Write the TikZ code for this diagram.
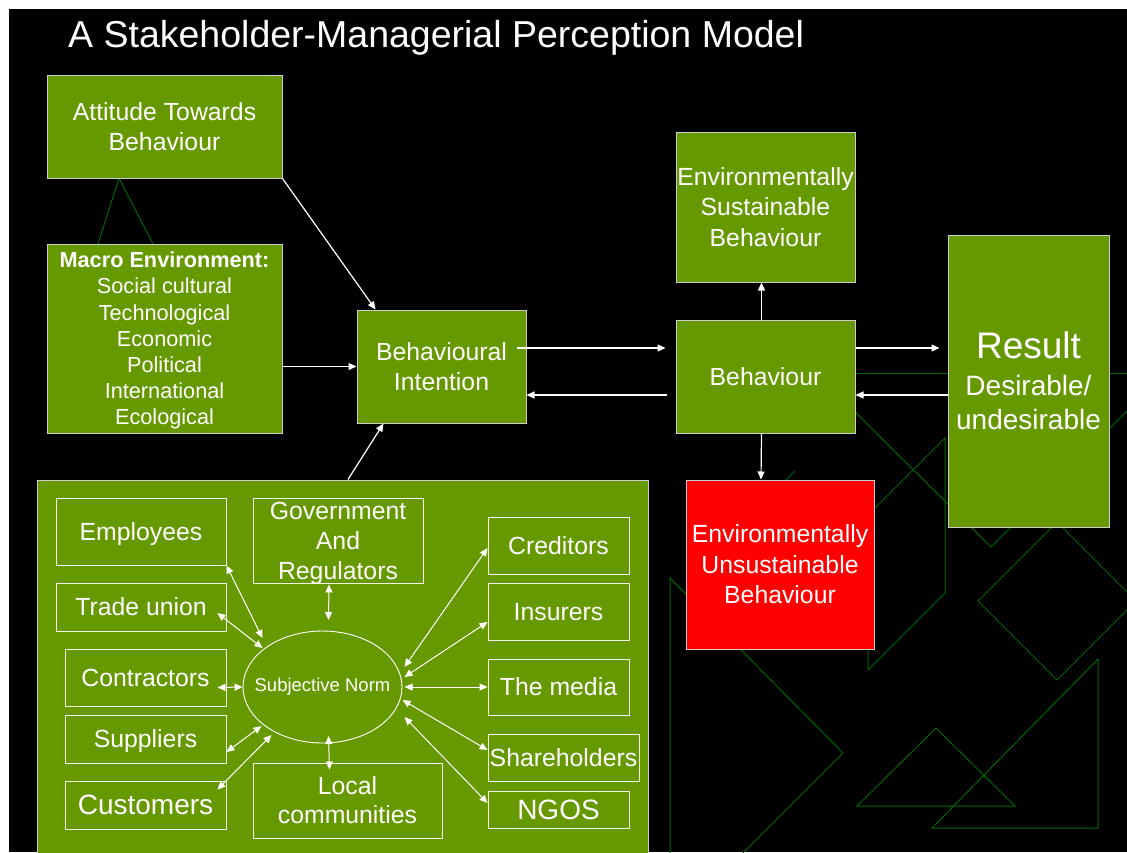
\documentclass[tikz,border=0pt]{standalone}
\usepackage{fontspec}
\setmainfont{Liberation Sans}
\usetikzlibrary{arrows.meta, shapes.geometric, calc}

\definecolor{slidegreen}{RGB}{102,153,0}
\definecolor{decogreen}{RGB}{0,102,0}
\definecolor{boxline}{RGB}{205,205,205}
\newcommand{\fsz}[2]{\fontsize{#1}{#2}\selectfont}

\tikzset{
  box/.style={draw=boxline, line width=1pt, fill=slidegreen, text=white, inner sep=0pt, align=center, text depth=0pt, font=\fsz{24.8}{30.5}},
  inbox/.style={draw=white!90!slidegreen, line width=0.9pt, text=white, inner sep=0pt, align=center, text depth=0pt, font=\fsz{24.8}{30}},
  arr/.style={-{Triangle[length=8pt,width=7pt]}, draw=white, line width=1.2pt},
  dbl/.style={{Triangle[length=8pt,width=7pt]}-{Triangle[length=8pt,width=7pt]}, draw=white, line width=1pt},
  deco/.style={draw=decogreen, line width=1pt}
}

\begin{document}
\begin{tikzpicture}[x=1pt, y=-1pt]
\useasboundingbox (0,0) rectangle (1127,852);
\fill[white] (0,0) rectangle (1127,852);
\fill[black] (9,9) rectangle (1127,852);

% background lines
\begin{scope}
\clip (9,9) rectangle (1127,852);
\draw[deco] (98,244) -- (119,178) -- (153,244);
\draw[deco] (800,373) -- (1127,373);
\draw[deco] (830,387) -- (991,547) -- (1140,398);
\draw[deco] (945,438) -- (945,593) -- (868,670) -- (868,515) -- cycle;
\draw[deco] (670,578) -- (843,753) -- (670,926) -- cycle;
\draw[deco] (978,601) -- (1057,522) -- (1136,601) -- (1057,680) -- cycle;
\draw[deco] (1098,659) -- (1098,828) -- (932,828) -- cycle;
\draw[deco] (936,728) -- (1015,806) -- (857,806) -- cycle;
\draw[deco] (786,480) -- (795,471);
\end{scope}

\node[anchor=base west, inner sep=0pt, text=white, font=\fsz{37.5}{45}] (title) at (68,47) {A Stakeholder-Managerial Perception Model};

% upper model
\node[box, minimum width=235, minimum height=103] (att) at (164.5,126.5) {Attitude Towards\\Behaviour};
\node[box, minimum width=235, minimum height=189, font=\fsz{21.7}{26.2}] (mac) at (164.5,338.5)
  {\textbf{Macro Environment:}\\Social cultural\\Technological\\Economic\\Political\\International\\Ecological};
\node[box, minimum width=169, minimum height=113] (bi) at (441.5,366.5) {Behavioural\\Intention};
\node[box, minimum width=179, minimum height=150] (ens) at (765.5,207) {Environmentally\\Sustainable\\Behaviour};
\node[box, minimum width=179, minimum height=113] (beh) at (765.5,376.5) {Behaviour};
\node[box, minimum width=161, minimum height=292, font=\fsz{28}{34}] (res) at (1028.5,381)
  {{\fsz{37}{37}Result}\\[3pt]Desirable/\\undesirable};
\node[box, fill=red, minimum width=188, minimum height=169] (red) at (780,564.5) {Environmentally\\Unsustainable\\Behaviour};

% stakeholders
\node[box, minimum width=611, minimum height=380] (panel) at (342.5,670) {};
\node[inbox, minimum width=170, minimum height=67] (emp) at (141,531.5) {Employees};
\node[inbox, minimum width=170, minimum height=48] (tu) at (141,607) {Trade union};
\node[inbox, minimum width=161, minimum height=57] (con) at (145.5,677.5) {Contractors};
\node[inbox, minimum width=161, minimum height=48] (sup) at (145.5,739) {Suppliers};
\node[inbox, minimum width=161, minimum height=48, font=\fsz{28}{32}] (cus) at (145.5,805) {Customers};
\node[inbox, minimum width=170, minimum height=85] (gov) at (338,540.5) {Government\\And\\Regulators};
\node[inbox, minimum width=189, minimum height=75, font=\fsz{24.8}{29}] (loc) at (347.5,800.5) {Local\\communities};
\node[inbox, minimum width=141, minimum height=57] (cre) at (558.5,545.5) {Creditors};
\node[inbox, minimum width=141, minimum height=57] (ins) at (558.5,611.5) {Insurers};
\node[inbox, minimum width=141, minimum height=56] (med) at (558.5,687) {The media};
\node[inbox, minimum width=151, minimum height=47] (sha) at (563.5,757.5) {Shareholders};
\node[inbox, minimum width=141, minimum height=37, font=\fsz{28}{32}] (ngo) at (558.5,809.5) {NGOS};
\node[ellipse, draw=white, line width=0.9pt, minimum width=159, minimum height=112, inner sep=0pt,
  label={[text=white, font=\fsz{18.5}{22}, inner sep=0pt]center:Subjective Norm}] (sn) at (322.5,687) {};

% arrows
\draw[arr] (att.south east) -- ($(bi.north west)+(19,0)$);
\draw[arr] (mac.east |- bi.west) -- (bi.west);
\draw[arr] ($(panel.north)+(5.5,0)$) -- ($(bi.south west)+(27,0)$);
\draw[arr] ($(bi.east)+(-10,-18.5)$) -- ($(beh.west)+(-10,-28.5)$);
\draw[arr] ($(beh.west)+(-9,18.5)$) -- ($(bi.east)+(0,28.5)$);
\draw[arr] ([xshift=-4pt]beh.north) -- ([xshift=-4pt]ens.south);
\draw[arr] ($(beh.east)+(0,-28.5)$) -- ($(res.west)+(-8,-33)$);
\draw[arr] ($(res.west)+(0,14)$) -- ($(beh.east)+(0,18.5)$);
\draw[arr] ([xshift=-4pt]beh.south) -- ($(red.north)+(-19,0)$);

\draw[dbl] (emp.south east) -- ($(sn.center)+(-60,-49)$);
\draw[dbl] ($(tu.east)+(-9,6)$) -- ($(sn.center)+(-60,-39)$);
\draw[dbl] ($(con.east)+(-9,10)$) -- (sn.west);
\draw[dbl] ($(sup.east)+(0,13)$) -- ($(sn.center)+(-61,39)$);
\draw[dbl] ($(cus.north east)+(-9,9)$) -- ($(sn.center)+(-51,48)$);
\draw[dbl] ($(gov.south)+(-9,1)$) -- ($(sn.center)+(6,-67)$);
\draw[dbl] ($(sn.center)+(6,49)$) -- ($(loc.north)+(-18,7)$);
\foreach \n/\dy/\ex/\ey in {cre/2.5/82/-20, ins/10.5/82/-10, med/0/82/0, sha/-7.5/80/13, ngo/-6.5/82/30}{
    \draw[dbl] ($(\n.west)+(0,\dy)$) -- ($(sn.center)+(\ex,\ey)$);
};

\end{tikzpicture}
\end{document}
